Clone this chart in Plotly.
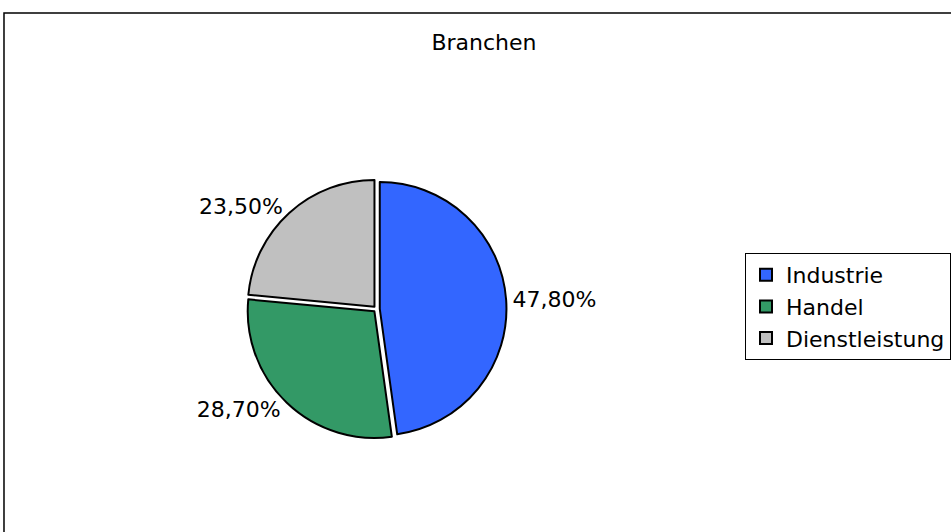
import plotly.graph_objects as go

labels = ["Industrie", "Handel", "Dienstleistung"]
values = [47.8, 28.7, 23.5]
colors = ["#3366FF", "#339966", "#C0C0C0"]
title_text = "Branchen"

FONT = "DejaVu Sans, Arial, Liberation Sans, sans-serif"

fig = go.Figure(go.Pie(
    labels=labels,
    values=values,
    sort=False,
    direction="clockwise",
    rotation=0,
    pull=[0.025, 0.025, 0.025],
    marker=dict(colors=colors, line=dict(color="black", width=2)),
    texttemplate="%{percent:.2%}",
    textposition="outside",
    textfont=dict(family=FONT, size=22, color="black"),
    domain=dict(x=[247 / 951, 507 / 951], y=[1 - 439 / 532, 1 - 179 / 532]),
    hoverinfo="label+percent",
))

fig.update_layout(
    width=951, height=532,
    margin=dict(l=0, r=0, t=0, b=0),
    paper_bgcolor="white",
    separators=",.",
    font=dict(family=FONT, size=22, color="black"),
    title=dict(text=title_text, x=484 / 951, xanchor="center", y=1 - 42 / 532, yanchor="middle",
               font=dict(size=22)),
    showlegend=True,
    legend=dict(x=746 / 951, xanchor="left", y=1 - 253 / 532, yanchor="top",
                bordercolor="black", borderwidth=1, bgcolor="white",
                font=dict(size=22), itemwidth=30),
    shapes=[dict(type="rect", xref="paper", yref="paper",
                 x0=4 / 951, x1=1.05, y0=-0.05, y1=1 - 13 / 532,
                 line=dict(color="black", width=1.5), fillcolor="rgba(0,0,0,0)")],
)

fig.write_html("out.html", config={"displayModeBar": False},
               post_script="document.body.style.margin='0';")
